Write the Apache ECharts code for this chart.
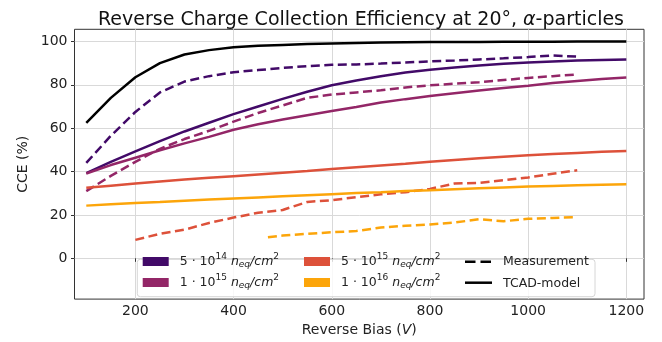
<!DOCTYPE html>
<html>
<head>
<meta charset="utf-8">
<script src="https://cdn.jsdelivr.net/npm/echarts@6/dist/echarts.min.js"></script>
<style>html,body{margin:0;padding:0;background:#fff}#chart{width:662px;height:342px}</style>
</head>
<body>
<div id="chart"></div>
<script>
// TCAD simulation, bias in V
var tcadBias = [100,150,200,250,300,350,400,450,500,550,600,650,700,750,800,850,900,950,1000,1050,1100,1150,1200];
var tcadRef  = [62.5,74,83.5,90,94,96,97.3,98,98.4,98.8,99.1,99.3,99.5,99.6,99.7,99.8,99.8,99.9,99.9,99.9,100,100,100];
var tcad5e14 = [39.3,44.5,49.3,54,58.5,62.5,66.5,70,73.5,76.8,79.8,82,84,85.7,87,88,88.9,89.7,90.3,90.8,91.2,91.5,91.7];
var tcad1e15 = [39.1,43,46.4,49.8,53,56,59.3,61.8,64,66,67.9,69.8,71.8,73.4,74.8,76.1,77.4,78.5,79.6,80.8,81.8,82.7,83.4];
var tcad5e15 = [32.5,33.5,34.5,35.4,36.3,37.1,37.9,38.7,39.5,40.3,41.2,42,42.8,43.6,44.5,45.3,46.1,46.8,47.5,48.1,48.6,49.1,49.5];
var tcad1e16 = [24.3,24.9,25.5,26,26.6,27.1,27.6,28.1,28.6,29.1,29.6,30.1,30.5,31,31.4,31.9,32.3,32.7,33.1,33.4,33.7,33.9,34.1];

// measurements
var measBias = [100,150,200,250,300,350,400,450,500,550,600,650,700,750,800,850,900,950,1000,1050,1100];
var meas5e14 = [44,56.5,67.5,76.5,81.5,84,85.8,86.8,87.8,88.6,89.2,89.4,89.8,90.3,90.8,91.2,91.7,92.2,92.8,93.5,93];
var meas1e15 = [31,38,44.5,50.5,55,58.8,63,67,70.5,74,75.5,76.5,77.5,78.8,79.8,80.5,81.2,82.2,83.2,84,84.8];
var measBias5e15 = [200,250,300,350,400,450,500,550,600,650,700,750,800,850,900,950,1000,1050,1100];
var meas5e15 = [8.5,11.3,13.2,16.3,18.8,21,22.3,26,26.8,28.2,29.5,30.5,32,34.5,34.8,36,37.3,39,40.6];
var measBias1e16 = [470,500,550,600,650,700,750,800,850,900,950,1000,1050,1100];
var meas1e16 = [9.7,10.5,11.3,12,12.6,14.2,15,15.6,16.5,18,17.1,18.2,18.6,19];

var fluenceText = {'5e14':['5','14'], '1e15':['1','15'], '5e15':['5','15'], '1e16':['1','16']};
var colors = {'5e14':'#420a68', '1e15':'#932667', '5e15':'#dd513a', '1e16':'#fca50a'};

function pairs(xs, ys){
    return xs.map(function(x, i){ return [x, ys[i]]; });
}

var FONT = 'DejaVu Sans';
var dash = [9, 4.5];

function lineSeries(name, color, data, dashed){
    return {
        name: name,
        type: 'line',
        data: data,
        symbol: 'none',
        color: color,
        lineStyle: {width: 2.5, color: color, type: dashed ? dash : 'solid'},
        itemStyle: {color: color},
        silent: true
    };
}

var series = [];
series.push(lineSeries('TCAD-model', '#000', pairs(tcadBias, tcadRef), false));
series.push(lineSeries('Measurement', '#000', [], true));
series.push(lineSeries('5e14', colors['5e14'], pairs(tcadBias, tcad5e14), false));
series.push(lineSeries('5e14', colors['5e14'], pairs(measBias, meas5e14), true));
series.push(lineSeries('1e15', colors['1e15'], pairs(tcadBias, tcad1e15), false));
series.push(lineSeries('1e15', colors['1e15'], pairs(measBias, meas1e15), true));
series.push(lineSeries('5e15', colors['5e15'], pairs(tcadBias, tcad5e15), false));
series.push(lineSeries('5e15', colors['5e15'], pairs(measBias5e15, meas5e15), true));
series.push(lineSeries('1e16', colors['1e16'], pairs(tcadBias, tcad1e16), false));
series.push(lineSeries('1e16', colors['1e16'], pairs(measBias1e16, meas1e16), true));

var legendText = {
    fontFamily: FONT, fontSize: 12.5, color: '#222', padding: [0,0,0,6],
    rich: {
        sup: {fontFamily: FONT, fontSize: 9, padding: [0,0,10,0]},
        it: {fontFamily: FONT, fontSize: 12.5, fontStyle: 'italic'},
        sub: {fontFamily: FONT, fontSize: 9, fontStyle: 'italic', padding: [6,0,0,0]}
    }
};
function fluenceFormatter(name){
    var f = fluenceText[name];
    if (!f) return name;
    return f[0] + ' \u00b7 10{sup|' + f[1] + '} {it|n}{sub|eq}{it|/cm}{sup|2}';
}
function fluenceLegend(left, names){
    return {
        orient: 'vertical',
        left: left,
        top: 252,
        padding: 0,
        itemGap: 4,
        itemWidth: 26,
        itemHeight: 9,
        selectedMode: false,
        data: names.map(function(n){ return {name: n, icon: 'rect'}; }),
        formatter: fluenceFormatter,
        textStyle: legendText,
        itemStyle: {borderWidth: 0}
    };
}

var chart = echarts.init(document.getElementById('chart'), null, {renderer: 'canvas'});
chart.setOption({
    animation: false,
    backgroundColor: '#fff',
    title: {
        text: 'Reverse Charge Collection Efficiency at 20\u00b0, {a|\u03b1}-particles',
        left: 356,
        textAlign: 'center',
        top: 6,
        textStyle: {
            fontFamily: FONT, fontSize: 19, fontWeight: 'normal', color: '#111',
            rich: {a: {fontFamily: FONT, fontSize: 19, fontStyle: 'italic', color: '#111'}}
        }
    },
    grid: {
        left: 74.5, top: 29.3, width: 569.5, height: 274,
        show: true, borderColor: '#333', borderWidth: 1, backgroundColor: 'transparent'
    },
    xAxis: {
        type: 'value',
        min: 76, max: 1236,
        splitNumber: 6,
        name: 'Reverse Bias ({i|V})',
        nameLocation: 'middle',
        nameGap: 16,
        nameTextStyle: {
            fontFamily: FONT, fontSize: 14, color: '#222',
            rich: {i: {fontFamily: FONT, fontSize: 14, fontStyle: 'italic', color: '#222'}}
        },
        axisLine: {show: false},
        axisTick: {show: true, length: 3.5, lineStyle: {color: '#333'}, customValues: [200,400,600,800,1000,1200]},
        axisLabel: {
            fontFamily: FONT, fontSize: 14, color: '#222', margin: 5,
            customValues: [200,400,600,800,1000,1200],
            formatter: function(v){ return v % 200 === 0 ? String(v) : ''; }
        },
        splitLine: {show: true, lineStyle: {color: '#d9d9d9', width: 1}}
    },
    yAxis: {
        type: 'value',
        min: -18.8, max: 105.6,
        splitNumber: 6,
        name: 'CCE (%)',
        nameLocation: 'middle',
        nameGap: 31,
        nameTextStyle: {fontFamily: FONT, fontSize: 14, color: '#222'},
        axisLine: {show: false},
        axisTick: {show: true, length: 3.5, lineStyle: {color: '#333'}, customValues: [0,20,40,60,80,100]},
        axisLabel: {
            fontFamily: FONT, fontSize: 14, color: '#222', margin: 7,
            customValues: [0,20,40,60,80,100],
            formatter: function(v){ return v % 20 === 0 ? String(v) : ''; }
        },
        splitLine: {show: true, lineStyle: {color: '#d9d9d9', width: 1}}
    },
    legend: [
        fluenceLegend(142.7, ['5e14','1e15']),
        fluenceLegend(304, ['5e15','1e16']),
        {
            // text only; the line-style keys are drawn below as graphic lines
            orient: 'vertical',
            left: 465,
            top: 255.5,
            padding: 0,
            itemGap: 8.5,
            itemWidth: 27,
            itemHeight: 3,
            selectedMode: false,
            data: [
                {name: 'Measurement', icon: 'rect'},
                {name: 'TCAD-model', icon: 'rect'}
            ],
            textStyle: {fontFamily: FONT, fontSize: 12.5, color: '#222', padding: [0,0,0,6]},
            itemStyle: {borderWidth: 0, color: 'rgba(0,0,0,0)'}
        }
    ],
    graphic: [{
        type: 'rect',
        z: 3,
        shape: {x: 137.3, y: 259.3, width: 457.7, height: 37.4, r: 3},
        style: {fill: 'rgba(255,255,255,0.8)', stroke: '#d6d6d6', lineWidth: 1}
    }, {
        type: 'line',
        z: 10,
        shape: {x1: 465, y1: 261.7, x2: 492, y2: 261.7},
        style: {stroke: '#000', lineWidth: 2.5, lineDash: [10.5, 5]}
    }, {
        type: 'line',
        z: 10,
        shape: {x1: 465, y1: 282.7, x2: 492, y2: 282.7},
        style: {stroke: '#000', lineWidth: 2.5}
    }],
    series: series
});
</script>
</body>
</html>
